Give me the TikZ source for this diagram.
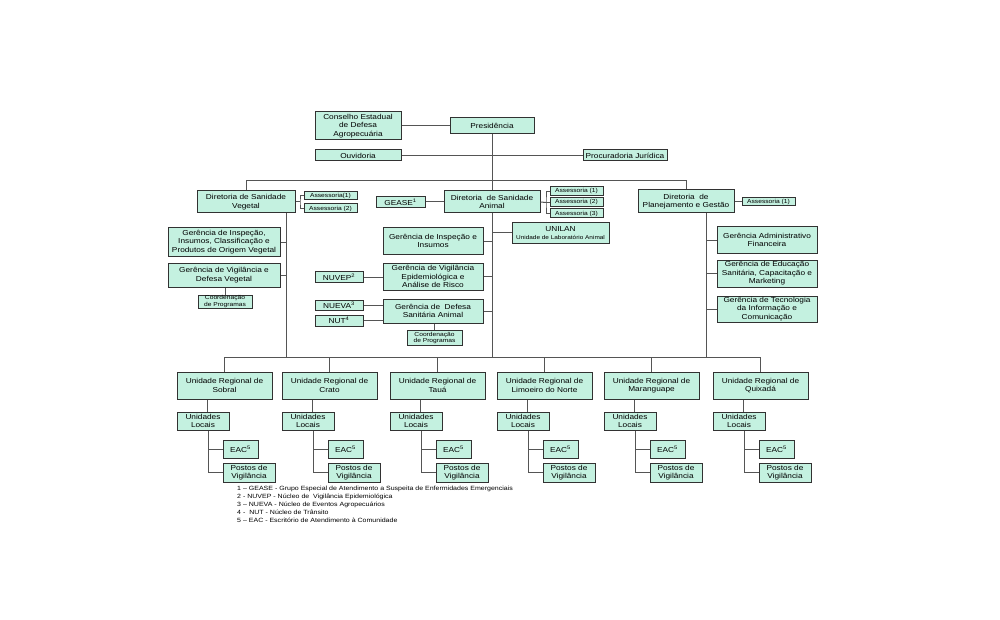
\documentclass[tikz,border=0pt]{standalone}
\usepackage{fontspec}
\setmainfont{Liberation Sans}[FakeStretch=1.15]
\definecolor{boxc}{RGB}{196,241,224}
\definecolor{bordc}{RGB}{50,50,50}
\definecolor{linec}{RGB}{85,85,85}
\begin{document}
\begin{tikzpicture}[x=1pt,y=-1pt,
  box/.style={draw=bordc,fill=boxc,line width=1pt,inner sep=0pt,align=center,font=\fontsize{7.2}{8.6}\selectfont},
  sbox/.style={box,font=\fontsize{5.8}{6}\selectfont},
  conn/.style={draw=linec,line width=1pt},
  legendtext/.style={inner sep=0pt,align=left,anchor=north west,font=\fontsize{6.1}{8}\selectfont}]
\fill[white] (0,0) rectangle (1000,620);
\useasboundingbox (0,0) rectangle (1000,620);

% top
\node[box,minimum width=86pt,minimum height=28pt] (cons) at (358,126) {Conselho Estadual\\de Defesa\\Agropecuária};
\node[box,minimum width=84pt,minimum height=16pt] (pres) at (492,126) {Presidência};
\node[box,minimum width=86pt,minimum height=11pt] (ouv) at (358,155.5) {Ouvidoria};
\node[box,minimum width=84pt,minimum height=11pt] (proc) at (625,155.5) {Procuradoria Jurídica};

% directorates
\node[box,minimum width=98pt,minimum height=22pt] (dsv) at (246,202) {Diretoria de Sanidade\\Vegetal};
\node[sbox,minimum width=53pt,minimum height=8pt] (as1v) at (330.5,196) {Assessoria(1)};
\node[sbox,minimum width=53pt,minimum height=9pt] (as2v) at (330.5,208.5) {Assessoria (2)};
\node[box,minimum width=49pt,minimum height=11pt] (gease) at (400.5,202) {GEASE\textsuperscript{1}};
\node[box,minimum width=96pt,minimum height=22pt] (dsa) at (492,202) {Diretoria \ de Sanidade\\Animal};
\node[sbox,minimum width=53pt,minimum height=9pt] (as1a) at (576.5,191.5) {Assessoria (1)};
\node[sbox,minimum width=53pt,minimum height=9pt] (as2a) at (576.5,202.5) {Assessoria (2)};
\node[sbox,minimum width=53pt,minimum height=9pt] (as3a) at (576.5,213.5) {Assessoria (3)};
\node[box,minimum width=96pt,minimum height=23pt] (dpg) at (686,201.5) {Diretoria \ de\\Planejamento e Gestão};
\node[sbox,minimum width=53pt,minimum height=8pt] (as1p) at (768.5,201.5) {Assessoria (1)};

% left column
\node[box,minimum width=112pt,minimum height=28pt] (giv) at (224,242) {Gerência de Inspeção,\\Insumos, Classificação e\\Produtos de Origem Vegetal};
\node[box,minimum width=112pt,minimum height=24pt] (gvd) at (224,275) {Gerência de Vigilância e\\Defesa Vegetal};
\node[sbox,minimum width=54pt,minimum height=13pt] (cpv) at (225,301.5) {Coordenação\\de Programas};

% center column
\node[box,minimum width=100pt,minimum height=26pt] (gii) at (433,241) {Gerência de Inspeção e\\Insumos};
\node[box,minimum width=97pt,minimum height=20pt] (unilan) at (560.5,233) {{\fontsize{7.2}{7}\selectfont UNILAN}\\[-1pt]{\fontsize{5.6}{6}\selectfont Unidade de Laboratório Animal}};
\node[box,minimum width=100pt,minimum height=27pt] (gve) at (433,276.5) {Gerência de Vigilância\\Epidemiológica e\\Análise de Risco};
\node[box,minimum width=100pt,minimum height=24pt] (gds) at (433,311) {Gerência de \ Defesa\\Sanitária Animal};
\node[sbox,minimum width=55pt,minimum height=15pt] (cpa) at (434.5,337.5) {Coordenação\\de Programas};
\node[box,minimum width=48pt,minimum height=11pt] (nuvep) at (339,277) {NUVEP\textsuperscript{2}};
\node[box,minimum width=48pt,minimum height=10pt] (nueva) at (339,305) {NUEVA\textsuperscript{3}};
\node[box,minimum width=48pt,minimum height=11pt] (nut) at (339,320.5) {NUT\textsuperscript{4}};

% right column
\node[box,minimum width=100pt,minimum height=26pt] (gaf) at (767,240) {Gerência Administrativo\\Financeira};
\node[box,minimum width=100pt,minimum height=27pt] (ged) at (767,273.5) {Gerência de Educação\\Sanitária, Capacitação e\\Marketing};
\node[box,minimum width=100pt,minimum height=26pt] (gti) at (767,309) {Gerência de Tecnologia\\da Informação e\\Comunicação};

% helper coordinates
\coordinate (tl) at (0,181);
\coordinate (hl) at (0,357);
\coordinate (vl) at (286,0);
\coordinate (vr) at (706,0);
\coordinate (bv) at (300,202);
\coordinate (ba) at (546,202.5);

% top connectors
\draw[conn] (cons.east) -- (pres.west);
\draw[conn] (ouv.east) -- (proc.west);
\draw[conn] (pres.south) -- (dsa.north);
\draw[conn] (dsv.north) -- (dsv.north |- tl) -- (tl -| dpg.north) -- (dpg.north);

% assessoria brackets
\draw[conn] (dsv.east) -- (bv);
\draw[conn] (as1v.west) -| (bv) |- (as2v.west);
\draw[conn] (dsa.east) -- (ba);
\draw[conn] (as1a.west) -| (ba) |- (as3a.west);
\draw[conn] (ba) -- (as2a.west);
\draw[conn] (dpg.east) -- (as1p.west);
\draw[conn] (gease.east) -- (dsa.west);

% left column connectors
\draw[conn] (vl |- dsv.south) -- (vl |- hl);
\draw[conn] (giv.east) -- (giv.east -| vl);
\draw[conn] (gvd.east) -- (gvd.east -| vl);
\draw[conn] (cpv.north) -- (cpv.north |- gvd.south);

% center column connectors
\draw[conn] (dsa.south) -- (dsa.south |- hl);
\draw[conn] (gii.east) -- (gii.east -| dsa.south);
\draw[conn] (gve.east) -- (gve.east -| dsa.south);
\draw[conn] (gds.east) -- (gds.east -| dsa.south);
\draw[conn] (unilan.west) -- (unilan.west -| dsa.south);
\draw[conn] (nuvep.east) -- (nuvep.east -| gve.west);
\draw[conn] (nueva.east) -- (nueva.east -| gds.west);
\draw[conn] (nut.east) -- (nut.east -| gds.west);
\draw[conn] (cpa.north) -- (cpa.north |- gds.south);

% right column connectors
\draw[conn] (vr |- dpg.south) -- (vr |- hl);
\draw[conn] (gaf.west) -- (gaf.west -| vr);
\draw[conn] (ged.west) -- (ged.west -| vr);
\draw[conn] (gti.west) -- (gti.west -| vr);

% regional units
\foreach \i/\lx/\nm in {1/177/Sobral,2/282/Crato,3/390/Tauá,4/497/Limoeiro do Norte,5/604/Maranguape,6/713/Quixadá}{
  \node[box,minimum width=95pt,minimum height=27pt] (u\i) at ({\lx+47.5},385.5) {Unidade Regional de\\\nm};
  \node[box,minimum width=52pt,minimum height=18pt] (ul\i) at ({\lx+26},421) {Unidades\\Locais};
  \node[box,minimum width=35pt,minimum height=18pt] (eac\i) at ({\lx+63.5},449) {EAC\textsuperscript{5}};
  \node[box,minimum width=52pt,minimum height=19pt] (pv\i) at ({\lx+72},472.5) {Postos de\\Vigilância};
  \coordinate (a\i) at ({\lx+30},0);
  \coordinate (b\i) at ({\lx+31},0);
  \draw[conn] (u\i.north) -- (u\i.north |- hl);
  \draw[conn] (a\i |- u\i.south) -- (a\i |- ul\i.north);
  \draw[conn] (b\i |- ul\i.south) -- (b\i |- pv\i.west) -- (pv\i.west);
  \draw[conn] (b\i |- eac\i.west) -- (eac\i.west);
}
\draw[conn] (u1.north |- hl) -- (u6.north |- hl);

% legend
\node[legendtext] (legend) at (237,486) {1 – GEASE - Grupo Especial de Atendimento a Suspeita de Enfermidades Emergenciais\\
2 - NUVEP - Núcleo de \ Vigilância Epidemiológica\\
3 – NUEVA - Núcleo de Eventos Agropecuários\\
4 - \ NUT - Núcleo de Trânsito\\
5 – EAC - Escritório de Atendimento à Comunidade};
\end{tikzpicture}
\end{document}
